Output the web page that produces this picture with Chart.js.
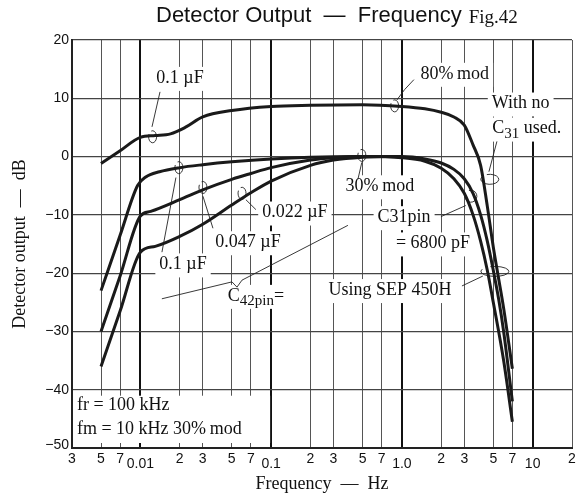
<!DOCTYPE html>
<html>
<head>
<meta charset="utf-8">
<script src="https://cdn.jsdelivr.net/npm/chart.js@4.4.0/dist/chart.umd.min.js"></script>
<style>
  html, body { margin: 0; padding: 0; background: #fff; }
</style>
</head>
<body>
<canvas id="c" width="584" height="498"></canvas>
<script>
// x grid / tick positions (Hz) and the labels printed under them
const tickValues = [0.003, 0.005, 0.007, 0.01, 0.02, 0.03, 0.05, 0.07, 0.1, 0.2, 0.3, 0.5, 0.7, 1, 2, 3, 5, 7, 10, 20];
const tickLabels = ['3', '5', '7', '0.01', '2', '3', '5', '7', '0.1', '2', '3', '5', '7', '1.0', '2', '3', '5', '7', '10', '2'];
const decades = [0.01, 0.1, 1, 10];
const dbTicks = [20, 10, 0, -10, -20, -30, -40, -50];

// 80% mod curve
const freq80 = [0.005, 0.007, 0.01, 0.013, 0.017, 0.022, 0.03, 0.05, 0.1, 0.2, 0.5, 1.0, 1.5, 2.0, 2.5, 3.0, 3.5, 4.0, 4.5, 5.0, 5.5, 6.0, 7.0];
const db80   = [-1.2, 1.0, 3.3, 3.6, 3.9, 5.0, 6.8, 7.9, 8.6, 8.8, 8.9, 8.6, 8.2, 7.6, 6.8, 5.4, 2.0, -1.5, -8.5, -15.5, -21, -26, -36.4];

// 30% mod, C42 = 0.1 uF  (continues as "with no C31")
const freqA = [0.005, 0.007, 0.0095, 0.011, 0.014, 0.02, 0.03, 0.05, 0.1, 0.2, 0.5, 1.0, 1.5, 2.0, 2.5, 3.0, 3.5, 4.0, 4.5, 5.0, 5.5, 6.0, 7.0];
const dbA   = [-23, -13.5, -5, -3.5, -2.6, -1.9, -1.4, -0.9, -0.4, -0.1, 0, 0, -0.4, -1.1, -2.2, -3.8, -6.3, -10, -14.5, -19.5, -24.5, -30, -42];

// 30% mod, C42 = 0.047 uF  (continues as "C31pin = 6800 pF")
const freqB = [0.005, 0.007, 0.01, 0.012, 0.02, 0.03, 0.05, 0.07, 0.1, 0.2, 0.3, 0.5, 1.0, 1.5, 2.0, 2.5, 3.0, 3.5, 4.0, 4.5, 5.0, 6.0, 7.0];
const dbB   = [-30, -20.5, -10.2, -9.4, -7.4, -5.7, -3.9, -2.9, -1.9, -0.6, -0.2, 0, -0.2, -0.8, -2, -3.8, -6.3, -10, -14.5, -19.5, -25, -35, -45.5];

// 30% mod, C42 = 0.022 uF
const freqC = [0.005, 0.007, 0.01, 0.013, 0.02, 0.03, 0.05, 0.07, 0.1, 0.2, 0.3, 0.5, 0.7];
const dbC   = [-36, -26.5, -16.4, -15.4, -13.7, -11.6, -8.3, -6.2, -4.2, -1.5, -0.6, -0.1, 0];

const pts = (fs, ds) => fs.map((f, i) => ({ x: f, y: ds[i] }));

const SERIF = '"Liberation Serif", "Times New Roman", serif';
const SANS  = '"Liberation Sans", Arial, sans-serif';

// annotation texts, placed in data units (Hz, dB); parts starting with "_" are subscripts
const notes = [
    { parts: ['0.1 \u00b5F'], f: 0.0201, db: 13.5 },
    { parts: ['80%\u2009mod'], f: 2.54, db: 14.2 },
    { parts: ['With no'], f: 8.1, db: 9.1 },
    { parts: ['C', '_31', ' used.'], f: 9.0, db: 4.8 },
    { parts: ['30%\u2009mod'], f: 0.679, db: -5.1 },
    { parts: ['0.022 \u00b5F'], f: 0.152, db: -9.6 },
    { parts: ['C31pin'], f: 1.04, db: -10.4 },
    { parts: ['= 6800 pF'], f: 1.73, db: -14.9 },
    { parts: ['0.047 \u00b5F'], f: 0.0665, db: -14.7 },
    { parts: ['0.1 \u00b5F'], f: 0.0212, db: -18.5 },
    { parts: ['C', '_42pin', '='], f: 0.0765, db: -23.9 },
    { parts: ['Using SEP 450H'], f: 0.81, db: -22.9 }
];
const infoLines = ['fr = 100 kHz', 'fm = 10 kHz 30%\u2009mod'];
const infoPos = [[0.00327, -42.7], [0.00327, -46.8]];

// leader lines and little loops
const leaders = [
    [[0.01413, 11.1], [0.01227, 5.1]],
    [[1.236, 13.2], [1.05, 11.5], [0.915, 9.7]],
    [[5.33, 2.6], [4.63, -2.6]],
    [[1.99, -10.3], [3.08, -8.4]],
    [[2.88, -22.2], [4.16, -20.5]],
    [[0.461, -3.9], [0.494, -1.0]],
    [[0.01462, -16.4], [0.0187, -3.6]],
    [[0.0359, -12.3], [0.0301, -6.8]],
    [[0.0765, -9.1], [0.0641, -7.4]],
    [[0.0146, -24.4], [0.0502, -21.5], [0.0548, -22.4], [0.0599, -21.2], [0.3866, -11.8]]
];
const loops = [
    [0.0124, 3.4, 4, 6], [0.88, 8.7, 4, 6], [4.7, -3.9, 9, 5], [3.37, -6.8, 6, 6],
    [5.14, -19.7, 14, 5], [0.494, 0.2, 4, 6], [0.0197, -1.9, 4, 6],
    [0.0301, -5.3, 4, 6], [0.0599, -6.3, 4, 6]
];

function partsWidth(ctx, parts) {
    let w = 0;
    parts.forEach(p => {
        ctx.font = p[0] === '_' ? '15px ' + SERIF : '18px ' + SERIF;
        w += ctx.measureText(p[0] === '_' ? p.slice(1) : p).width;
    });
    return w;
}

const paper = {
    id: 'paper',
    beforeDatasetsDraw(chart) {
        const { ctx, chartArea: a, scales: { x, y } } = chart;
        ctx.save();
        // white patches behind the labels
        ctx.fillStyle = '#fff';
        notes.forEach(n => {
            const w = partsWidth(ctx, n.parts);
            const cx = x.getPixelForValue(n.f), cy = y.getPixelForValue(n.db);
            ctx.fillRect(cx - w / 2 - 4, cy - 11, w + 8, 24);
        });
        // info box in the lower left corner
        const bx1 = x.getPixelForValue(0.1);
        const by0 = y.getPixelForValue(-40);
        ctx.fillRect(a.left + 1, by0 + 6, bx1 - a.left - 2, a.bottom - by0 - 11);
        ctx.fillRect(a.left + 1, by0 + 1, 28, a.bottom - by0 - 2);
        // leaders
        ctx.strokeStyle = '#222';
        ctx.lineWidth = 0.9;
        leaders.forEach(l => {
            ctx.beginPath();
            l.forEach((p, i) => {
                const px = x.getPixelForValue(p[0]), py = y.getPixelForValue(p[1]);
                if (i === 0) ctx.moveTo(px, py); else ctx.lineTo(px, py);
            });
            ctx.stroke();
        });
        loops.forEach(l => {
            ctx.beginPath();
            ctx.ellipse(x.getPixelForValue(l[0]), y.getPixelForValue(l[1]), l[2], l[3], 0, -1.9, 3.6);
            ctx.stroke();
        });
        ctx.restore();
    },
    afterDatasetsDraw(chart) {
        const { ctx, chartArea: a, scales: { x, y } } = chart;
        ctx.save();
        ctx.fillStyle = '#111';
        ctx.textBaseline = 'middle';
        notes.forEach(n => {
            const w = partsWidth(ctx, n.parts);
            let px = x.getPixelForValue(n.f) - w / 2;
            const py = y.getPixelForValue(n.db);
            n.parts.forEach(p => {
                const sub = p[0] === '_';
                const s = sub ? p.slice(1) : p;
                ctx.font = sub ? '15px ' + SERIF : '18px ' + SERIF;
                ctx.textAlign = 'left';
                ctx.fillText(s, px, sub ? py + 5 : py);
                px += ctx.measureText(s).width;
            });
        });
        ctx.font = '18px ' + SERIF;
        ctx.textAlign = 'left';
        infoLines.forEach((t, i) => {
            ctx.fillText(t, x.getPixelForValue(infoPos[i][0]), y.getPixelForValue(infoPos[i][1]));
        });

        // tick labels
        ctx.font = '14px ' + SANS;
        ctx.textAlign = 'center';
        tickValues.forEach((v, i) => {
            const dec = decades.includes(v);
            ctx.fillText(tickLabels[i], x.getPixelForValue(v), a.bottom + (dec ? 16 : 11));
        });
        ctx.textAlign = 'right';
        dbTicks.forEach(d => {
            ctx.fillText(d < 0 ? '\u2212' + (-d) : String(d), a.left - 3, y.getPixelForValue(d) - (d === -50 ? 3 : 0));
        });

        // axis titles
        ctx.font = '18px ' + SERIF;
        ctx.textAlign = 'center';
        ctx.fillText('Frequency  \u2014  Hz', (a.left + a.right) / 2, a.bottom + 36);
        ctx.save();
        ctx.translate(20, (a.top + a.bottom) / 2);
        ctx.rotate(-Math.PI / 2);
        ctx.fillText('Detector output  \u2014  dB', 0, 0);
        ctx.restore();

        // title
        ctx.textAlign = 'left';
        ctx.font = '22px ' + SANS;
        const t1 = 'Detector Output  \u2014  Frequency';
        ctx.fillText(t1, 156, 16);
        const w1 = ctx.measureText(t1).width;
        ctx.font = '19px ' + SERIF;
        ctx.fillText('Fig.42', 156 + w1 + 7, 18);
        ctx.restore();
    }
};

const lineStyle = {
    borderColor: '#1a1a1a',
    borderWidth: 3,
    pointRadius: 0,
    fill: false,
    cubicInterpolationMode: 'monotone'
};

new Chart(document.getElementById('c'), {
    type: 'line',
    data: {
        datasets: [
            { label: '80% mod', data: pts(freq80, db80), ...lineStyle },
            { label: '30% mod 0.1 uF', data: pts(freqA, dbA), ...lineStyle },
            { label: '30% mod 0.047 uF', data: pts(freqB, dbB), ...lineStyle },
            { label: '30% mod 0.022 uF', data: pts(freqC, dbC), ...lineStyle }
        ]
    },
    options: {
        responsive: false,
        animation: false,
        devicePixelRatio: 1,
        layout: { padding: { left: 72, right: 12, top: 40, bottom: 50 } },
        plugins: { legend: { display: false }, tooltip: { enabled: false }, title: { display: false } },
        scales: {
            x: {
                type: 'logarithmic',
                min: 0.003,
                max: 20,
                afterBuildTicks: s => { s.ticks = tickValues.map(v => ({ value: v })); },
                ticks: { display: false },
                grid: {
                    drawTicks: false,
                    color: c => decades.includes(c.tick && c.tick.value) ? '#111' : '#555',
                    lineWidth: c => decades.includes(c.tick && c.tick.value) ? 2 : 1
                },
                border: { display: true, color: '#222', width: 2 }
            },
            y: {
                type: 'linear',
                min: -50,
                max: 20,
                afterBuildTicks: s => { s.ticks = dbTicks.map(v => ({ value: v })); },
                ticks: { display: false },
                grid: { drawTicks: false, color: '#444', lineWidth: 1.2 },
                border: { display: true, color: '#222', width: 2 }
            }
        }
    },
    plugins: [paper]
});
</script>
</body>
</html>
